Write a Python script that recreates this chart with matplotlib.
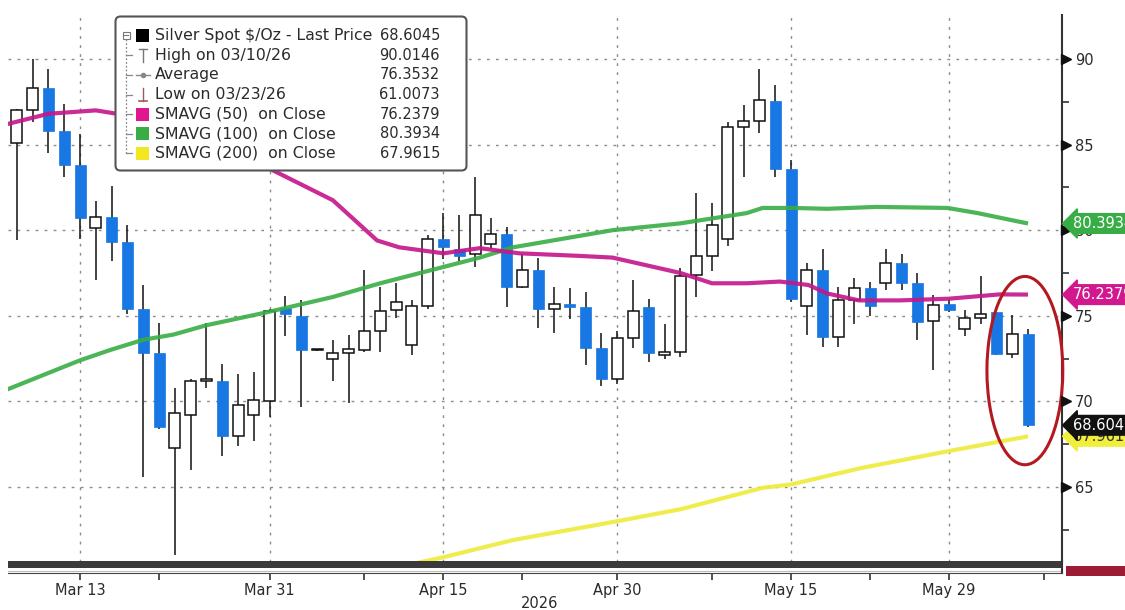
import matplotlib
matplotlib.use("Agg")
import matplotlib.pyplot as plt
from matplotlib.patches import Rectangle, Ellipse, FancyBboxPatch
from matplotlib.transforms import blended_transform_factory

# daily OHLC, Mar 9 .. Jun 5 2026 (trading-day index 0..64)
opens = [85.1, 87.0, 88.3, 85.8, 83.8, 80.1, 80.8, 79.3, 75.4, 72.8,
         67.3, 69.2, 71.2, 71.2, 68.0, 69.2, 70.0, 75.45, 75.0, 73.0,
         72.5, 72.8, 73.0, 74.1, 75.35, 73.3, 75.6, 79.5, 78.9, 78.6,
         79.2, 79.8, 76.7, 77.7, 75.4, 75.7, 75.5, 73.1, 71.3, 73.7,
         75.5, 72.7, 72.9, 77.4, 78.5, 79.5, 86.0, 86.4, 87.55, 83.55,
         75.55, 77.7, 73.75, 75.9, 76.65, 76.9, 78.1, 76.9, 74.7, 75.7,
         74.25, 74.85, 75.2, 72.75, 73.95]
highs = [87.1, 90.01, 89.4, 87.4, 85.6, 81.7, 82.6, 80.3, 76.8, 74.6,
         70.8, 71.3, 74.6, 72.2, 71.6, 71.7, 75.4, 76.15, 75.9, 73.05,
         73.6, 73.9, 77.7, 76.7, 76.9, 75.9, 79.7, 81.0, 80.9, 83.1,
         80.7, 80.2, 78.6, 78.4, 76.7, 76.6, 76.4, 74.0, 74.1, 77.1,
         76.0, 74.5, 77.8, 82.2, 81.6, 86.3, 87.3, 89.4, 88.5, 84.1,
         78.1, 78.9, 76.7, 77.2, 77.0, 78.9, 78.6, 77.5, 76.2, 75.9,
         75.35, 77.3, 75.25, 75.05, 74.2]
lows = [79.4, 86.3, 84.5, 83.1, 79.5, 77.1, 78.2, 75.1, 65.6, 68.4,
        61.01, 66.0, 70.8, 66.8, 67.4, 67.7, 69.1, 73.8, 69.7, 72.95,
        71.2, 69.9, 72.9, 72.9, 74.9, 72.7, 75.4, 78.3, 78.2, 77.85,
        78.9, 75.5, 76.6, 74.3, 74.0, 74.8, 72.1, 70.9, 71.0, 73.1,
        72.3, 72.5, 72.6, 76.1, 77.6, 79.1, 83.1, 85.7, 83.1, 75.8,
        73.9, 73.15, 73.2, 74.5, 75.0, 76.5, 76.5, 73.6, 71.85, 75.2,
        73.8, 74.55, 72.7, 72.55, 68.5]
closes = [87.0, 88.3, 85.8, 83.8, 80.7, 80.8, 79.3, 75.4, 72.8, 68.5,
          69.3, 71.2, 71.3, 68.0, 69.8, 70.1, 75.3, 75.1, 73.0, 73.0,
          72.8, 73.05, 74.1, 75.3, 75.8, 75.6, 79.5, 79.0, 78.5, 80.9,
          79.8, 76.7, 77.7, 75.4, 75.7, 75.5, 73.1, 71.3, 73.7, 75.3,
          72.8, 72.9, 77.3, 78.5, 80.3, 86.0, 86.4, 87.6, 83.55, 76.0,
          77.7, 73.75, 75.9, 76.6, 75.6, 78.1, 76.9, 74.65, 75.65, 75.35,
          74.85, 75.1, 72.75, 73.95, 68.6045]

# moving averages (trading-day index, value)
sma50_x = [-0.6, 2, 5, 7, 10, 13, 16.2, 20, 22.8, 24.2, 27, 29.3, 31.8, 35.6,
           37.7, 42, 44, 46.2, 48.3, 50.1, 51.3, 53.3, 55.9, 59, 62.2, 64]
sma50_y = [86.2, 86.8, 87.0, 86.7, 86.0, 85.0, 83.5, 81.75, 79.4, 79.0, 78.65,
           78.95, 78.65, 78.5, 78.4, 77.5, 76.9, 76.9, 77.0, 76.8, 76.3, 75.9,
           75.9, 76.0, 76.25, 76.24]
sma100_x = [-0.6, 4, 5.9, 8, 9.9, 12, 15.8, 20, 23, 29.3, 31.4, 37.7, 42,
            46.2, 47.2, 49.1, 51.3, 54.4, 58.9, 60.8, 64]
sma100_y = [70.7, 72.4, 73.0, 73.6, 73.9, 74.45, 75.2, 76.1, 76.9, 78.4, 79.0,
            80.0, 80.4, 81.0, 81.3, 81.3, 81.25, 81.36, 81.3, 81.0, 80.39]
sma200_x = [24.5, 27, 31.4, 37.7, 42, 47.2, 49, 53.4, 59, 64]
sma200_y = [60.4, 60.9, 61.9, 62.95, 63.7, 64.95, 65.15, 66.1, 67.1, 67.96]

date_ticks = [4, 16, 27, 38, 49, 59]
date_labels = ["Mar 13", "Mar 31", "Apr 15", "Apr 30", "May 15", "May 29"]
week_ticks = [9, 22, 32, 44, 54, 65]
price_ticks = [65, 70, 75, 80, 85, 90]
price_minor = [62.5, 67.5, 72.5, 77.5, 82.5, 87.5]

legend_names = ["Silver Spot $/Oz - Last Price", "High on 03/10/26", "Average",
                "Low on 03/23/26", "SMAVG (50)  on Close", "SMAVG (100)  on Close",
                "SMAVG (200)  on Close"]
legend_values = ["68.6045", "90.0146", "76.3532", "61.0073", "76.2379",
                 "80.3934", "67.9615"]

BLUE = "#1877e3"
MAGENTA = "#c4168a"
GREEN = "#38ad45"
YELLOW = "#eeec3a"
TXT = "#2b2b2b"

plt.rcParams["font.family"] = ["DejaVu Sans"]

W, H = 1125, 610
fig = plt.figure(figsize=(W / 100, H / 100), dpi=100)


def rect(x0, y0, x1, y1):
    # pixel box (top-left origin) -> figure fraction
    return [x0 / W, 1 - y1 / H, (x1 - x0) / W, (y1 - y0) / H]


ax = fig.add_axes(rect(8, 15, 1062, 562))
ax.set_xlim(-0.56, 66.15)
ax.set_ylim(90 - (562 - 59) / 17.12, 90 + (59 - 15) / 17.12)

# candles
bw = 0.7
for i in range(len(opens)):
    o, h, l, c = opens[i], highs[i], lows[i], closes[i]
    ax.plot([i, i], [l, h], color="#111111", lw=1.1, zorder=2, solid_capstyle="butt")
    lo, hgt = min(o, c), max(abs(c - o), 0.07)
    if c >= o:
        ax.add_patch(Rectangle((i - bw / 2, lo), bw, hgt, fc="white", ec="#111111",
                               lw=1.1, zorder=3))
    else:
        ax.add_patch(Rectangle((i - bw / 2, lo), bw, hgt, fc=BLUE, ec=BLUE,
                               lw=0.5, zorder=3))

ax.plot(sma200_x, sma200_y, color=YELLOW, lw=3, alpha=0.9, zorder=4, solid_capstyle="butt")
ax.plot(sma100_x, sma100_y, color=GREEN, lw=3, alpha=0.9, zorder=4, solid_capstyle="butt")
ax.plot(sma50_x, sma50_y, color=MAGENTA, lw=3, alpha=0.9, zorder=4, solid_capstyle="butt")

# red highlight ring around the last three sessions
ax.add_patch(Ellipse((63.8, 71.8), 4.8, 11.0, fill=False, ec="#b3191f", lw=2.2,
                     zorder=6, clip_on=False))

# grid and axes
ax.set_xticks(date_ticks)
ax.set_xticklabels([])
ax.tick_params(axis="x", length=0)
ax.yaxis.tick_right()
ax.set_yticks(price_ticks)
ax.set_yticks(price_minor, minor=True)
ax.tick_params(axis="y", which="major", length=0, pad=9.5, labelsize=10.5, labelcolor=TXT)
ax.tick_params(axis="y", which="minor", length=5, width=1.2, color="#333333")
ax.grid(True, which="major", color="#8c8c8c", lw=1, linestyle=(0, (2, 4.5)))
for s in ["top", "left", "bottom"]:
    ax.spines[s].set_visible(False)
ax.spines["right"].set_color("#333333")
ax.spines["right"].set_linewidth(1.5)

tr = blended_transform_factory(ax.transAxes, ax.transData)
ax.plot([1.0 + 4.5 / 1054] * len(price_ticks), price_ticks, ls="none", marker=">",
        ms=6.5, color="#111111", transform=tr, clip_on=False, zorder=7)

# value flags on the right edge
flags = [(80.3934, "80.3934", GREEN, "white", 8),
         (76.2379, "76.2379", "#d2188e", "white", 8),
         (67.9615, "67.9615", "#f2ee3c", "#333333", 8),
         (68.6045, "68.6045", "#111111", "white", 9)]
for val, txt, bg, fg, z in flags:
    ax.text(1.0 + 11 / 1054, val, txt, transform=tr, ha="left", va="center",
            fontsize=10.5, color=fg, clip_on=False, zorder=z,
            bbox=dict(boxstyle="larrow,pad=0.16", fc=bg, ec=bg))

# date strip with the scroll bar
axb = fig.add_axes(rect(8, 561, 1062, 573))
axb.set_xlim(ax.get_xlim())
axb.set_ylim(0, 1)
axb.axhspan(0.38, 1.0, color="#3b3b3b", lw=0)
axb.axhline(0.2, color="#bdbdbd", lw=0.8)
axb.set_yticks([])
axb.set_xticks(date_ticks)
axb.set_xticklabels(date_labels)
axb.set_xticks(week_ticks, minor=True)
axb.tick_params(axis="x", which="both", length=5, width=1.2, color="#333333",
                pad=2, labelsize=10.5, labelcolor=TXT)
for s in ["top", "left"]:
    axb.spines[s].set_visible(False)
axb.spines["bottom"].set_color("#444444")
axb.spines["right"].set_color("#333333")
axb.spines["right"].set_linewidth(1.5)

fig.text(540 / W, 1 - 604 / H, "2026", ha="center", va="center", fontsize=10.5, color=TXT)
fig.patches.append(Rectangle((1066 / W, 1 - 576 / H), 59 / W, 10 / H, fc="#9c1c33",
                             ec="none", transform=fig.transFigure, figure=fig))

# legend box
lg = fig.add_axes(rect(114, 15, 468, 172))
lg.set_zorder(10)
lg.set_xlim(0, 354)
lg.set_ylim(157, 0)
lg.axis("off")
lg.add_patch(FancyBboxPatch((1.5, 1.5), 351, 154, boxstyle="round,pad=0,rounding_size=5",
                            fc="white", ec="#555555", lw=1.5))
rows = [20.7 + 19.6 * k for k in range(len(legend_names))]
# tree lines
lg.plot([12, 12], [24, rows[-1]], color="#888888", lw=0.9, ls=(0, (1.5, 1.5)))
for yv in rows[1:]:
    lg.plot([12, 18], [yv, yv], color="#888888", lw=0.9)
lg.add_patch(Rectangle((8.5, rows[0] - 4), 7, 7, fc="white", ec="#777777", lw=0.8))
lg.plot([10, 14], [rows[0] - 0.5, rows[0] - 0.5], color="#777777", lw=0.8)
# icons
lg.add_patch(Rectangle((22, rows[0] - 6.5), 13, 13, fc="#000000"))
lg.plot([25, 33], [rows[1] - 6, rows[1] - 6], color="#777777", lw=1)
lg.plot([29, 29], [rows[1] - 6, rows[1] + 7], color="#777777", lw=1)
lg.plot([22, 36], [rows[2], rows[2]], color="#888888", lw=1)
lg.plot([29], [rows[2]], marker="o", ms=3, color="#888888")
lg.plot([29, 29], [rows[3] - 7, rows[3] + 6], color="#a05a5a", lw=1)
lg.plot([25, 33], [rows[3] + 6, rows[3] + 6], color="#a05a5a", lw=1.2)
for k, col in zip([4, 5, 6], ["#e0188f", GREEN, "#f3e722"]):
    lg.add_patch(Rectangle((22, rows[k] - 6.5), 13, 13, fc=col))
for k in range(len(legend_names)):
    lg.text(41, rows[k], legend_names[k], ha="left", va="center", fontsize=11.3, color=TXT)
    lg.text(326, rows[k], legend_values[k], ha="right", va="center", fontsize=10.5, color=TXT)

fig.savefig("out.png", dpi=100)
